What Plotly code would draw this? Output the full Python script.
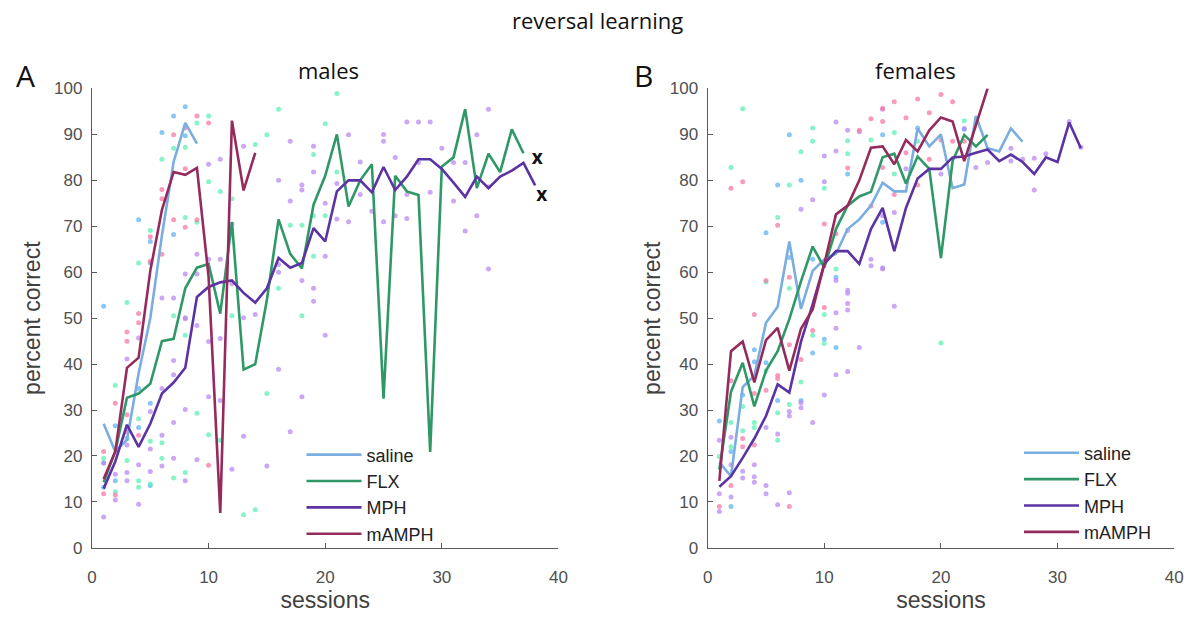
import plotly.graph_objects as go

# ---------------- data ----------------
GROUPS = ["saline", "FLX", "MPH", "mAMPH"]
LINE_COLORS = ["#7aaee0", "#2f9866", "#5b33a3", "#952a5c"]
DOT_COLORS = ["#62b4f5", "#5ff0b4", "#b98af2", "#f57aa6"]

# males: mean lines (sessions start at 1)
M_SAL = [27, 21, 23.5, 38, 50, 68, 84, 92.5, 88]
M_FLX = [14.3, 21, 32.7, 33.6, 35.7, 45, 45.5, 56.5, 61, 61.8, 51, 70.9, 38.8, 40, 54,
         71.5, 64, 60.8, 74.7, 81, 90, 74.3, 80, 83.5, 32.5, 81, 77.6, 76.8, 20.9, 83,
         85, 95.5, 78.3, 85.8, 81.8, 91.1, 85.9]
M_MPH = [12.9, 18.8, 26.8, 22, 27, 33.6, 36, 39.2, 54.6, 56.8, 57.8, 58.2, 55.5, 53.4,
         56.5, 63.1, 61, 62, 69.6, 66.7, 77.6, 80, 80, 77.4, 82.9, 77.9, 80.8, 84.6, 84.6,
         82.5, 79.5, 76.4, 80.8, 78.3, 80.8, 82.1, 83.8, 78.9]
M_AMPH = [15, 21, 39.2, 41.4, 60.3, 73.6, 81.8, 81.2, 82.7, 59, 7.6, 93, 77.8, 86]

# females: mean lines
F_SAL = [18.6, 15.6, 35, 37.5, 49, 52.5, 66.7, 52, 60.3, 62.8, 64, 69.4, 71.5, 74.5, 79.5,
         77.6, 77.6, 91.3, 87.4, 90, 78.3, 79.1, 94, 87, 86.3, 91.3, 88.4]
F_FLX = [17, 34, 40.3, 30.8, 38.6, 42.8, 49.8, 58, 65.6, 61, 69.4, 74.5, 76.5, 77.5, 85,
         85.8, 79.3, 85.2, 82.5, 63.1, 84.2, 89.9, 87.4, 89.9]
F_MPH = [13.3, 15.6, 19.6, 23.8, 28.7, 35.6, 33.8, 44.9, 53, 61.8, 64.6, 64.6, 61.8, 69.4,
         74, 64.6, 74, 80.4, 82.5, 82.5, 85, 85.2, 86, 86.7, 84.2, 85.6, 84, 81.4, 85, 84,
         92.6, 87]
F_AMPH = [14.6, 42.8, 44.9, 36, 45.2, 47.9, 38.6, 47.7, 51.9, 61.8, 72.6, 74.5, 80, 87.1,
          87.4, 83.5, 88.8, 86.3, 90.9, 93.7, 92.8, 84.2, 92, 100]

# individual animals (session, percent correct)
M_SAL_DOTS = [(1, 52.6), (1, 13.2), (1, 18.5), (2, 26.6), (2, 14.6), (3, 23.8), (4, 34.7),
              (4, 26.2), (4, 71.4), (5, 31.5), (5, 13.6), (5, 66.7), (5, 62), (6, 90.4),
              (7, 94), (7, 68.2), (8, 96), (8, 89.7)]
M_FLX_DOTS = [(1, 19.5), (2, 35.4), (2, 12.2), (3, 53.4), (3, 19), (4, 28.1), (4, 14.6),
              (4, 13.2), (4, 62), (5, 23.2), (5, 13.9), (5, 69.1), (6, 22.9), (6, 19.5),
              (6, 84.6), (7, 15.2), (7, 87), (7, 50.5), (8, 16.4), (8, 87.2), (8, 71.9),
              (8, 46.3), (9, 29.3), (9, 92.5), (9, 70.9), (10, 24.6), (10, 94), (10, 79.7),
              (11, 23.4), (11, 77.6), (12, 76), (12, 50.5), (13, 7.2), (14, 8.3), (14, 87.8),
              (15, 33.6), (15, 89.9), (16, 95.5), (16, 56.5), (17, 70.2), (18, 70.2),
              (18, 50.5), (19, 85.6), (19, 72.3), (19, 63.5), (20, 92.3), (20, 72.3),
              (21, 98.9), (21, 81.8)]
M_MPH_DOTS = [(1, 6.7), (1, 18.5), (2, 10.4), (2, 16), (3, 41.1), (3, 22.4), (3, 16.4),
              (3, 14.6), (4, 45.7), (4, 18.1), (4, 9.5), (5, 29.7), (5, 21.5), (5, 16.6),
              (6, 34.7), (6, 24.5), (6, 17.8), (6, 54.4), (7, 40.8), (7, 37.7), (7, 27.3),
              (7, 19.5), (7, 54.4), (8, 49.9), (8, 30.1), (8, 14.6), (8, 59.6), (8, 50.1),
              (9, 48.4), (9, 19.2), (9, 63.9), (9, 59.6), (10, 32.9), (10, 44.9), (10, 83.5),
              (10, 62.8), (11, 45.6), (11, 32.1), (11, 84.6), (11, 62.8), (12, 17.1),
              (12, 70.5), (12, 57.5), (13, 24.3), (13, 87.4), (13, 50.1), (14, 50.8),
              (15, 17.8), (16, 38.9), (16, 80), (16, 61.7), (16, 60), (17, 25.3), (17, 88.5),
              (17, 75.5), (18, 32.9), (18, 79), (18, 77.9), (18, 58.2), (19, 53.7),
              (19, 56.5), (19, 87.4), (19, 81.8), (20, 46.3), (20, 75), (20, 63.5),
              (21, 79.3), (21, 71.6), (22, 89.9), (22, 71), (23, 84), (23, 76.9), (24, 73.3),
              (25, 90), (25, 88.5), (25, 71), (26, 85), (26, 72.3), (27, 92.7), (27, 76.9),
              (27, 71.7), (28, 92.7), (28, 83.9), (29, 92.7), (29, 77.4), (30, 87),
              (31, 83.9), (31, 75.5), (32, 83.9), (32, 69), (33, 89.9), (33, 72.3),
              (34, 95.5), (34, 78.6), (34, 60.7)]
M_AMPH_DOTS = [(1, 21), (1, 11.8), (2, 31.5), (2, 11.5), (3, 29), (3, 25.3), (3, 47),
               (3, 45), (4, 24.5), (4, 51), (4, 49), (5, 67.7), (5, 62.4), (6, 78), (6, 76),
               (6, 63.9), (7, 89.9), (7, 71.4), (8, 91.4), (8, 82.5), (8, 69.8), (9, 94),
               (9, 71.4), (10, 92.5), (10, 18)]

F_SAL_DOTS = [(1, 27.6), (2, 9), (2, 21), (3, 33.3), (4, 43.1), (4, 40.5), (5, 40.3),
              (5, 68.6), (6, 32.1), (6, 79), (7, 89.9), (7, 63.2), (8, 32.1), (8, 80),
              (9, 42.4), (9, 62.8), (10, 45.4), (11, 43.6), (11, 58.9), (12, 81.4),
              (15, 89.9), (15, 70.9), (18, 91.4), (22, 91.1)]
F_FLX_DOTS = [(1, 19.9), (2, 27.3), (2, 22), (2, 82.8), (3, 30.8), (3, 25.5), (3, 95.6),
              (4, 27.3), (4, 26.2), (5, 38.5), (5, 57.9), (6, 29.4), (6, 23.4), (6, 71.9),
              (7, 31.2), (7, 79), (7, 56.5), (8, 36.1), (8, 86.2), (9, 46.3), (9, 91.4),
              (9, 88.5), (10, 44.5), (10, 50.8), (10, 78.3), (11, 60.7), (12, 88.6),
              (12, 85.8), (14, 88.8), (16, 90.4), (16, 81.4), (18, 88.5), (20, 44.6),
              (22, 93)]
F_MPH_DOTS = [(1, 11.8), (1, 7.9), (1, 23.4), (2, 24.1), (2, 18.1), (2, 11.1), (3, 16.7),
              (3, 15.2), (4, 18.1), (4, 15.5), (4, 14.3), (5, 13.6), (5, 11.8), (5, 26.2),
              (6, 24.8), (6, 9.4), (7, 29.7), (7, 28.7), (7, 12), (8, 31.6), (8, 30.5),
              (8, 73.7), (9, 27.3), (9, 75.8), (10, 33.3), (10, 79.7), (10, 85.3),
              (11, 37.7), (11, 47.8), (11, 92.7), (11, 86.4), (11, 58.2), (11, 51.2),
              (12, 38.4), (12, 53.2), (12, 51.8), (12, 90.9), (12, 69.1), (12, 56.1),
              (12, 55.4), (13, 43.6), (13, 90.6), (14, 61.4), (14, 62.8), (15, 95.5),
              (15, 72.3), (15, 61), (15, 60.7), (16, 52.6), (16, 73), (17, 82.5), (20, 81.4),
              (22, 91.3), (23, 82.8), (24, 83.9), (26, 87), (26, 84.2), (27, 84.6),
              (28, 84.8), (28, 77.9), (29, 85.8), (31, 92.8), (32, 87.2)]
F_AMPH_DOTS = [(1, 9), (2, 36.4), (2, 13.6), (2, 78.3), (3, 23.8), (3, 22), (3, 79.7),
               (4, 50.8), (4, 33.6), (4, 22.4), (5, 34.3), (5, 58.2), (6, 37.5), (6, 36.8),
               (6, 70.2), (7, 44.2), (7, 9), (7, 58.9), (8, 41), (9, 47.3), (10, 52.3),
               (10, 70.5), (11, 68.4), (12, 82.7), (13, 90.9), (14, 93.4), (14, 74.4),
               (15, 95.7), (15, 82.8), (15, 92.8), (16, 97.1), (16, 76.9), (17, 93.6),
               (17, 86), (18, 97.7), (18, 79), (19, 94.7), (19, 84.6), (20, 98.7),
               (20, 88.8), (21, 97.1), (21, 88.5), (22, 88.5)]

# end-of-series markers on the males panel
X_MARK_SESSIONS = [37.7, 38.1]
X_MARK_VALUES = [84.5, 76.5]

X_TICKS = [0, 10, 20, 30, 40]
Y_TICKS = [0, 10, 20, 30, 40, 50, 60, 70, 80, 90, 100]

# ---------------- figure ----------------
W, H = 1198, 617
fig = go.Figure()

panels = [
    ("x", "y", "legend", [M_SAL, M_FLX, M_MPH, M_AMPH],
     [M_SAL_DOTS, M_FLX_DOTS, M_MPH_DOTS, M_AMPH_DOTS]),
    ("x2", "y2", "legend2", [F_SAL, F_FLX, F_MPH, F_AMPH],
     [F_SAL_DOTS, F_FLX_DOTS, F_MPH_DOTS, F_AMPH_DOTS]),
]

for xa, ya, leg, lines, dots in panels:
    for g, d in enumerate(dots):
        fig.add_trace(go.Scatter(
            x=[p[0] for p in d], y=[p[1] for p in d], mode="markers",
            marker=dict(size=5, color=DOT_COLORS[g], opacity=0.75, line=dict(width=0)),
            xaxis=xa, yaxis=ya, showlegend=False, hoverinfo="skip"))
    for g, vals in enumerate(lines):
        fig.add_trace(go.Scatter(
            x=list(range(1, len(vals) + 1)), y=vals, mode="lines",
            line=dict(color=LINE_COLORS[g], width=2.6),
            name=GROUPS[g], xaxis=xa, yaxis=ya, legend=leg, showlegend=True))

fig.add_trace(go.Scatter(
    x=X_MARK_SESSIONS, y=X_MARK_VALUES, mode="text", text=["x", "x"],
    textposition="middle right",
    textfont=dict(family="Open Sans", size=19, color="#111111", weight="bold"),
    xaxis="x", yaxis="y", showlegend=False, hoverinfo="skip"))

axis_common = dict(
    showline=True, linecolor="#5a5a5a", linewidth=1.3, mirror=False,
    showgrid=False, zeroline=False, ticks="inside", ticklen=5, tickwidth=1.2,
    tickcolor="#5a5a5a",
    tickfont=dict(family="Liberation Sans", size=17, color="#505050"),
)

yd = [61 / H, 535 / H]
title_font = dict(family="Liberation Sans", size=23, color="#404040")
fig.update_layout(
    width=W, height=H,
    margin=dict(l=0, r=0, t=0, b=0),
    paper_bgcolor="white", plot_bgcolor="white",
    xaxis=dict(domain=[88 / W, 560 / W], range=[0, 40], tickvals=X_TICKS,
               anchor="y", ticklabelstandoff=14,
               title=dict(text="sessions", standoff=4, font=title_font),
               **axis_common),
    yaxis=dict(domain=yd, range=[0, 100], tickvals=Y_TICKS, anchor="x",
               ticklabelstandoff=5,
               title=dict(text="percent correct", standoff=6, font=title_font),
               **axis_common),
    xaxis2=dict(domain=[711 / W, 1183 / W], range=[0, 40], tickvals=X_TICKS,
                anchor="y2", ticklabelstandoff=14,
                title=dict(text="sessions", standoff=4, font=title_font),
                **axis_common),
    yaxis2=dict(domain=yd, range=[0, 100], tickvals=Y_TICKS, anchor="x2",
                ticklabelstandoff=5,
                title=dict(text="percent correct", standoff=2, font=title_font),
                **axis_common),
    legend=dict(x=300 / W, y=1 - 441 / H, xanchor="left", yanchor="top",
                bgcolor="rgba(0,0,0,0)", font=dict(family="Liberation Sans", size=18,
                                                     color="#222222"),
                tracegroupgap=0, itemwidth=55),
    legend2=dict(x=1026 / W, y=1 - 439 / H, xanchor="left", yanchor="top",
                 bgcolor="rgba(0,0,0,0)", font=dict(family="Liberation Sans", size=18,
                                                      color="#222222"),
                 tracegroupgap=0, itemwidth=55),
    annotations=[
        dict(text="reversal learning", x=600 / W, y=1 - 11 / H, xref="paper", yref="paper",
             showarrow=False, xanchor="center", yanchor="middle",
             font=dict(family="Open Sans", size=22, color="#111111")),
        dict(text="males", x=327 / W, y=1 - 63 / H, xref="paper", yref="paper",
             showarrow=False, xanchor="center", yanchor="middle",
             font=dict(family="Open Sans", size=22, color="#111111")),
        dict(text="females", x=921 / W, y=1 - 63 / H, xref="paper", yref="paper",
             showarrow=False, xanchor="center", yanchor="middle",
             font=dict(family="Open Sans", size=22, color="#111111")),
        dict(text="A", x=21 / W, y=1 - 69 / H, xref="paper", yref="paper",
             showarrow=False, xanchor="center", yanchor="middle",
             font=dict(family="Open Sans", size=30, color="#111111")),
        dict(text="B", x=646 / W, y=1 - 69 / H, xref="paper", yref="paper",
             showarrow=False, xanchor="center", yanchor="middle",
             font=dict(family="Open Sans", size=30, color="#111111")),
    ],
)

fig.write_html("out.html")
